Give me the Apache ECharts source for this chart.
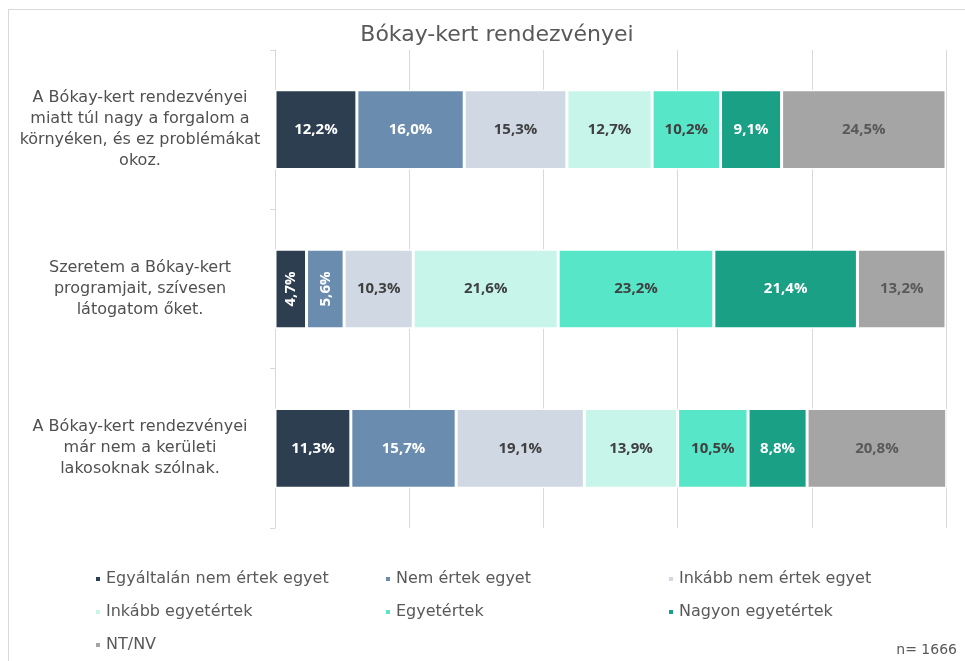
<!DOCTYPE html>
<html>
<head>
<meta charset="utf-8">
<script src="https://cdn.jsdelivr.net/npm/echarts@6/dist/echarts.min.js"></script>
<style>
  html, body { margin: 0; padding: 0; background: #fff; }
  #frame { position: absolute; left: 8px; top: 9px; width: 1000px; height: 700px; border: 1px solid #d9d9d9; box-sizing: border-box; }
  #chart { position: absolute; left: 0; top: 0; width: 965px; height: 661px; }
</style>
</head>
<body>
<div id="frame"></div>
<div id="chart"></div>
<script>
// kategóriák (felülről lefelé)
const categories = [
  'A Bókay-kert rendezvényei\nmiatt túl nagy a forgalom a\nkörnyéken, és ez problémákat\nokoz.',
  'Szeretem a Bókay-kert\nprogramjait, szívesen\nlátogatom őket.',
  'A Bókay-kert rendezvényei\nmár nem a kerületi\nlakosoknak szólnak.'
]
const seriesNames = [
  'Egyáltalán nem értek egyet',
  'Nem értek egyet',
  'Inkább nem értek egyet',
  'Inkább egyetértek',
  'Egyetértek',
  'Nagyon egyetértek',
  'NT/NV'
]
const egyaltalanNem = [12.2, 4.7, 11.3]
const nemErtek = [16.0, 5.6, 15.7]
const inkabbNem = [15.3, 10.3, 19.1]
const inkabbIgen = [12.7, 21.6, 13.9]
const egyetert = [10.2, 23.2, 10.5]
const nagyonIgen = [9.1, 21.4, 8.8]
const ntnv = [24.5, 13.2, 20.8]
const xTicks = [0, 20, 40, 60, 80, 100]

const values = [egyaltalanNem, nemErtek, inkabbNem, inkabbIgen, egyetert, nagyonIgen, ntnv]
const colors = ['#2c3e50', '#6a8caf', '#cfd8e3', '#c7f5ea', '#58e6c9', '#1aa085', '#a5a5a5']
const labelColors = ['#ffffff', '#ffffff', '#404040', '#404040', '#404040', '#ffffff', '#595959']
const font = 'DejaVu Sans'
const labelFont = 'Open Sans'

const myChart = echarts.init(document.getElementById('chart'))

const series = values.map(function (arr, i) {
  return {
    name: seriesNames[i],
    type: 'bar',
    stack: 'total',
    barWidth: '50%',
    itemStyle: { color: colors[i], borderColor: '#ffffff', borderWidth: 1.5 },
    label: {
      show: true,
      color: labelColors[i],
      fontFamily: labelFont,
      fontWeight: 'bold',
      fontSize: 15,
      formatter: function (p) {
        return p.value.toFixed(1).replace('.', ',') + '%'
      }
    },
    data: arr.map(function (v) {
      // a keskeny szeletek felirata elforgatva
      if (v < 7) return { value: v, label: { rotate: 90 } }
      return v
    })
  }
})

// jelmagyarázat oszloponként
const legendCols = [
  { left: 89, data: [seriesNames[0], seriesNames[3], seriesNames[6]] },
  { left: 379, data: [seriesNames[1], seriesNames[4]] },
  { left: 662, data: [seriesNames[2], seriesNames[5]] }
]

const option = {
  color: colors,
  animation: false,
  title: {
    text: 'Bókay-kert rendezvényei',
    left: 492,
    top: 19,
    textAlign: 'center',
    textStyle: { fontFamily: font, fontSize: 22, fontWeight: 'normal', color: '#595959' }
  },
  legend: legendCols.map(function (c) {
    return {
      orient: 'vertical',
      left: c.left,
      top: 566,
      itemGap: 17,
      itemWidth: 6,
      itemHeight: 6,
      icon: 'rect',
      selectedMode: false,
      textStyle: { fontFamily: font, fontSize: 16, color: '#595959' },
      data: c.data
    }
  }),
  grid: { left: 275, right: 19, top: 50, bottom: 133, containLabel: false },
  xAxis: {
    type: 'value',
    min: 0,
    max: 100,
    interval: 20,
    axisLabel: { show: false },
    axisLine: { show: false },
    axisTick: { show: false },
    splitLine: { lineStyle: { color: '#d9d9d9', width: 1 } }
  },
  yAxis: {
    type: 'category',
    inverse: true,
    data: categories,
    axisLine: { lineStyle: { color: '#d9d9d9', width: 1 } },
    axisTick: { show: true, length: 5, lineStyle: { color: '#d9d9d9' } },
    axisLabel: {
      margin: 135,
      align: 'center',
      fontFamily: font,
      fontSize: 16,
      lineHeight: 21,
      color: '#505050'
    }
  },
  graphic: [{
    type: 'text',
    right: 8,
    top: 643,
    style: { text: 'n= 1666', fontFamily: font, fontSize: 14, fill: '#595959' }
  }],
  series: series
}

myChart.setOption(option)
</script>
</body>
</html>
